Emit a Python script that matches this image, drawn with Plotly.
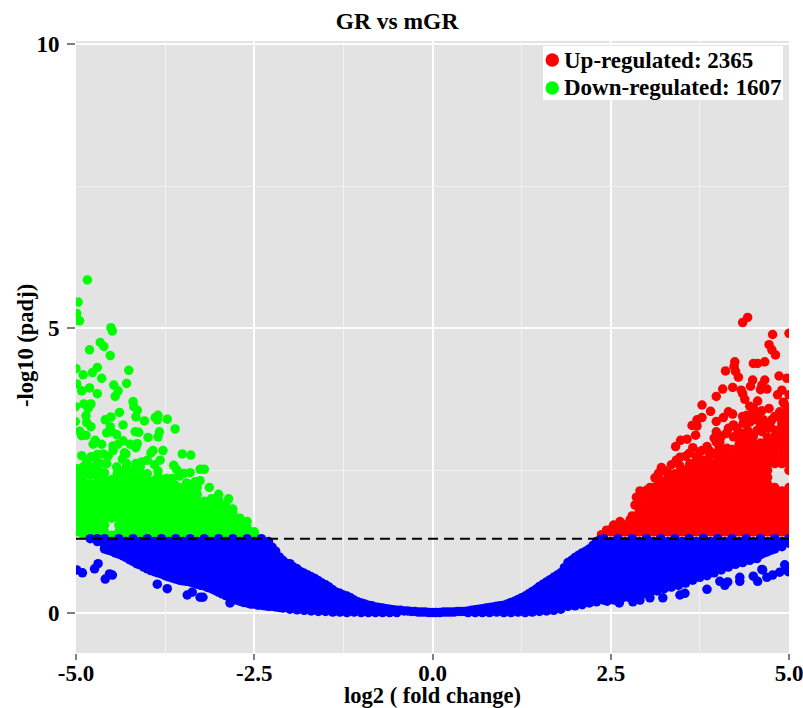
import plotly.graph_objects as go

# Separate points on the outskirts of each cloud
down_x = [-4.84,-4.97,-4.99,-4.95,-4.51,-4.49,-4.66,-4.61,-4.81,-4.52,-4.70,-4.77,-4.26,-5.0,-4.90,-4.64,-4.99,-4.29,-4.47,-4.81,
          -4.92,-4.41,-4.70,-4.45,-4.20,-4.89,-4.79,-4.19,-4.83,-4.14,-5.01,-4.39,-4.16,-3.85,-3.89,-3.72,-3.86,-4.86,-4.51,-4.59,
          -4.04,-4.85,-5.01,-4.34,-4.79,-4.52,-3.61,-4.95,-4.57,-4.17,-4.12,-3.83,-4.50,-4.43,-4.92,-4.86,-3.99,-3.85,-4.73,-4.34,
          -4.76,-4.64,-4.14,-4.24,-4.48,-4.41,-4.16,-4.48,-3.78,-3.92,-3.95,-4.32,-4.30,-3.51,-3.39,-4.62,-4.92,-4.79,-3.82,-4.0,
          -4.08,-4.16,-3.63,-3.26,-3.20,-3.59,-3.40,-3.49,-3.55,-3.85,-4.29,-4.57,-4.66,-4.76,-4.99,-4.83,-4.43,-4.31,-4.42,-4.62,
          -4.73,-4.94,-4.12,-3.73,-3.85,-3.26,-3.33,-3.35,-3.61,-3.55,-3.13,-4.42,-3.96,-2.86,
          -3.65,-3.3,-3.45,-4.55,-4.7,-4.35,-4.85,-4.97,-4.98,-3.0]
down_y = [5.85,5.46,5.26,5.13,5.01,4.95,4.75,4.68,4.62,4.52,4.31,4.22,4.26,4.29,4.18,4.12,4.02,4.03,4.0,3.95,
          3.90,3.90,3.85,3.80,3.71,3.67,3.67,3.62,3.59,3.56,3.62,3.52,3.44,3.47,3.43,3.40,3.39,3.46,3.44,3.39,
          3.37,3.34,3.36,3.30,3.27,3.27,3.23,3.19,3.16,3.18,3.17,3.18,3.18,3.13,3.11,3.12,3.08,3.09,3.03,3.02,
          2.96,2.96,2.97,2.96,2.93,2.96,2.90,2.85,2.85,2.85,2.81,2.81,2.79,2.79,2.77,2.79,2.76,2.74,2.68,2.68,
          2.65,2.62,2.59,2.52,2.52,2.52,2.46,2.45,2.40,2.49,2.62,2.62,2.62,2.56,2.53,2.53,2.56,2.48,2.45,2.45,
          2.45,2.33,2.48,2.36,2.39,2.32,2.30,2.21,2.24,2.20,2.20,2.30,2.24,2.0,
          2.36,2.2,2.28,2.75,2.78,2.7,2.65,2.35,2.5,2.08]

up_x = [4.42,4.35,4.77,5.0,4.72,4.76,4.81,4.24,4.50,4.56,4.66,4.23,4.11,4.25,4.29,4.86,4.97,4.49,4.66,4.46,
        4.62,4.07,4.21,4.33,4.69,4.90,4.60,4.35,4.84,5.0,3.98,4.38,4.56,3.78,4.93,4.45,4.72,3.90,4.50,4.15,
        4.21,4.41,4.87,3.78,3.71,4.08,3.98,4.50,4.64,4.76,4.97,3.64,3.71,4.15,4.22,4.27,4.36,4.90,4.71,3.98,
        4.36,4.48,4.62,3.69,4.22,3.95,3.57,3.48,4.71,4.92,4.03,4.64,3.41,3.65,3.85,4.13,4.06,4.36,4.78,4.97,
        3.75,3.96,4.55,3.47,3.71,3.89,3.47,3.21,3.61,4.10,4.31,4.45,4.73,4.97,3.31,3.17,3.12,3.17,3.0,2.91,
        2.86,2.84,2.77,2.63,2.54,2.44,2.37,
        3.98,4.05,4.12,4.02,4.3,4.42,4.55,4.6,4.68,4.75,4.82,4.88,4.95,4.8,4.56,4.45,4.35,4.5,4.62,4.4,4.85,3.88,3.78,3.6,3.55,3.35,3.42,3.25,3.05,2.95,4.92,4.98]
up_y = [5.19,5.10,4.89,4.91,4.71,4.62,4.53,4.41,4.38,4.38,4.41,4.33,4.25,4.24,4.14,4.16,4.12,4.09,4.09,3.98,
        4.0,3.93,3.96,3.91,3.93,3.91,3.92,3.85,3.83,3.83,3.80,3.75,3.72,3.65,3.68,3.63,3.59,3.54,3.53,3.53,
        3.49,3.47,3.53,3.43,3.39,3.43,3.36,3.39,3.39,3.39,3.41,3.29,3.28,3.24,3.30,3.24,3.33,3.28,3.24,3.18,
        3.15,3.12,3.18,3.12,3.09,3.07,3.05,3.03,3.05,3.09,3.0,2.97,2.92,2.90,2.92,2.89,2.87,2.97,2.92,2.97,
        2.83,2.80,2.83,2.73,2.68,2.77,2.58,2.55,2.62,2.64,2.71,2.77,2.74,2.74,2.45,2.45,2.37,2.27,2.15,2.14,
        2.03,1.89,1.63,1.60,1.54,1.45,1.37,
        3.0,3.1,3.15,2.92,3.17,3.2,3.2,3.3,3.3,3.25,3.2,3.42,3.5,3.45,3.45,3.35,3.45,3.6,3.55,3.0,3.0,2.85,2.85,2.8,2.75,2.6,2.68,2.5,2.2,2.05,3.7,3.6]

ns_out_x = [-4.99,-4.91,-4.74,-4.69,-4.59,-4.53,-4.49,-3.86,-3.72,-3.44,-3.37,-3.26,-3.22,-2.84,
            2.62,2.81,2.91,3.05,3.23,3.47,3.54,3.85,4.03,4.10,4.14,4.31,4.31,4.50,4.56,4.62,4.63,4.69,4.77,4.87,4.97,4.94,4.99]
ns_out_y = [0.75,0.70,0.77,0.86,0.59,0.68,0.66,0.50,0.42,0.31,0.36,0.27,0.27,0.17,
            0.17,0.19,0.22,0.26,0.26,0.31,0.34,0.41,0.55,0.48,0.54,0.55,0.62,0.64,0.55,0.76,0.75,0.62,0.66,0.71,0.78,0.84,0.72]

# Read along the edges of the blue cloud
ns_edge_x = [-2.25,-2.15,-2.05,-1.95,-1.85,-1.75,-1.65,-1.55,-1.45,-1.35,-1.25,-1.15,-1.05,-0.95,-0.85,-0.75,-0.65,-0.55,-0.45,-0.35,-0.25,-0.15,-0.05,
             0.05,0.15,0.25,0.35,0.45,0.55,0.65,0.75,0.85,0.95,1.05,1.15,1.25,1.35,1.45,1.55,1.65,1.75,1.85,1.95,2.05,2.15,2.25,2.35,
             2.45,2.55,2.65,2.75,2.85,2.95,3.05,3.15,3.25,3.35,3.45,3.55,3.65,3.75,3.85,3.95,4.05,4.15,4.25,4.35,4.45,4.55,4.65,4.75,4.85,4.95,
             -4.55,-4.45,-4.35,-4.25,-4.15,-4.05,-3.95,-3.85,-3.75,-3.65,-3.55,-3.45,-3.35,-3.25,-3.15,-3.05,-2.95,-2.85,-2.75,-2.65,-2.55,-2.45,-2.35,-2.25,-2.15]
ns_edge_y = [1.15,0.98,0.87,0.8,0.72,0.66,0.6,0.52,0.45,0.36,0.31,0.26,0.19,0.15,0.12,0.09,0.07,0.05,0.04,0.03,0.02,0.01,0.0,
             0.0,0.01,0.01,0.02,0.02,0.04,0.06,0.08,0.1,0.12,0.15,0.2,0.26,0.33,0.41,0.5,0.58,0.66,0.79,0.92,1.01,1.08,1.18,1.28,
             0.2,0.22,0.25,0.27,0.29,0.33,0.36,0.38,0.42,0.45,0.48,0.52,0.57,0.62,0.65,0.7,0.75,0.8,0.85,0.88,0.92,0.95,1.05,1.1,1.18,1.25,
             1.1,1.05,1.0,0.93,0.86,0.8,0.74,0.7,0.65,0.61,0.57,0.55,0.52,0.48,0.44,0.39,0.33,0.27,0.22,0.18,0.15,0.13,0.12,0.11,0.09]

# Estimated where the clouds merge into solid colour: one x per column, with its y values
down_fill_x = [-5.0,-4.9,-4.8,-4.7,-4.6,-4.5,-4.4,-4.3,-4.2,-4.1,-4.0,-3.9,-3.8,-3.7,-3.6,-3.5,-3.4,-3.3,-3.2,-3.1,-3.0,-2.9,-2.8,-2.7,-2.6,-2.5]
down_fill_y = [
 [1.42,1.54,1.66,1.78,1.9,2.02,2.14,2.22],
 [1.37,1.48,1.6,1.72,1.84,1.96,2.08,2.2,2.32,2.44,2.56],
 [1.42,1.54,1.66,1.78,1.9,2.02,2.14,2.26,2.42,2.54],
 [1.36,1.48,1.6,1.72,1.84,1.96,2.08,2.2,2.3,2.42,2.52,2.64],
 [1.42,1.54,1.66,1.78,1.9,2.02,2.14,2.22,2.34,2.46],
 [1.36,1.66,1.72,1.84,1.96,2.08,2.22,2.34],
 [1.42,1.54,1.66,1.78,1.9,2.02,2.14,2.2,2.32,2.44],
 [1.36,1.48,1.6,1.72,1.84,1.96,2.08,2.2,2.3,2.42,2.54],
 [1.42,1.54,1.66,1.78,1.9,2.02,2.14,2.26,2.38,2.5],
 [1.36,1.48,1.6,1.72,1.84,1.96,2.08,2.2,2.32,2.44,2.56],
 [1.42,1.54,1.66,1.78,1.9,2.02,2.14,2.2,2.32,2.44],
 [1.36,1.48,1.6,1.72,1.84,1.96,2.08,2.2,2.32,2.6],
 [1.42,1.54,1.66,1.78,1.9,2.0,2.1,2.22,2.34],
 [1.36,1.48,1.6,1.72,1.84,1.96,2.02,2.14,2.26],
 [1.42,1.54,1.66,1.78,1.9,2.0,2.1,2.22],
 [1.36,1.48,1.6,1.72,1.84,1.92,2.02,2.14],
 [1.42,1.54,1.66,1.78,1.9,1.96,2.06,2.18],
 [1.36,1.48,1.6,1.72,1.84,1.96,2.08],
 [1.42,1.54,1.66,1.78,1.85,1.96],
 [1.36,1.48,1.6,1.72,1.8,1.9,2.0],
 [1.42,1.54,1.66,1.75,1.86,1.98],
 [1.36,1.48,1.6,1.7,1.8,1.9],
 [1.42,1.54,1.65,1.75,1.82],
 [1.36,1.48,1.56,1.66],
 [1.42,1.5,1.6],
 [1.38,1.42]]

up_fill_x = [2.4,2.5,2.6,2.7,2.8,2.9,3.0,3.1,3.2,3.3,3.4,3.5,3.6,3.7,3.8,3.9,4.0,4.1,4.2,4.3,4.4,4.5,4.6,4.7,4.8,4.9,5.0]
up_fill_y = [
 [1.36],
 [1.42,1.46],
 [1.36,1.48],
 [1.42,1.54],
 [1.36,1.48,1.6,1.7],
 [1.42,1.54,1.66,1.78,1.9],
 [1.36,1.48,1.6,1.72,1.84,1.96,2.05],
 [1.42,1.54,1.66,1.78,1.9,2.02,2.14,2.2],
 [1.36,1.48,1.6,1.72,1.84,1.96,2.08,2.2,2.32],
 [1.42,1.54,1.66,1.78,1.9,2.02,2.14,2.26,2.38],
 [1.36,1.48,1.6,1.72,1.84,1.96,2.08,2.2,2.32,2.44],
 [1.42,1.54,1.66,1.78,1.9,2.02,2.14,2.26,2.38,2.5],
 [1.36,1.48,1.6,1.72,1.84,1.96,2.08,2.2,2.32,2.44,2.56],
 [1.42,1.54,1.66,1.78,1.9,2.02,2.14,2.26,2.38,2.5,2.62,2.74],
 [1.36,1.48,1.6,1.72,1.84,1.96,2.08,2.2,2.32,2.44,2.56,2.68],
 [1.42,1.54,1.66,1.78,1.9,2.02,2.14,2.26,2.38,2.5,2.62],
 [1.36,1.48,1.6,1.72,1.84,1.96,2.08,2.2,2.32,2.44,2.56,2.68,2.8],
 [1.42,1.54,1.66,1.78,1.9,2.02,2.14,2.26,2.38,2.5,2.6,2.72,2.84],
 [1.36,1.48,1.6,1.72,1.84,1.96,2.08,2.2,2.32,2.44,2.56,2.68,2.75,2.87],
 [1.42,1.54,1.66,1.78,1.9,2.02,2.14,2.26,2.38,2.5,2.62,2.74,2.85,2.95,3.05],
 [1.36,1.48,1.6,1.72,1.84,1.96,2.08,2.2,2.32,2.44,2.56,2.68,2.8,2.92,3.04],
 [1.42,1.54,1.66,1.78,1.9,2.02,2.14,2.26,2.38,2.5,2.62,2.74,2.86,2.98,3.1],
 [1.36,1.48,1.6,1.72,1.84,1.96,2.08,2.2,2.32,2.44,2.56,2.68,2.75,2.86,2.98],
 [1.42,1.54,1.66,1.78,1.9,2.02,2.14,2.26,2.38,2.5,2.62,2.74,2.85,2.96,3.08],
 [1.36,1.48,1.6,1.72,1.84,1.96,2.08,2.2,2.62,2.74,2.86,2.98,3.1],
 [1.42,1.54,1.66,1.78,1.9,2.02,2.14,2.62,2.74,2.86,2.98,3.1,3.22,3.34],
 [1.36,1.48,1.6,1.72,1.84,1.96,2.08,2.2,2.5,2.62,2.74,2.86,3.0,3.15,3.3]]

ns_fill_x = [-4.8,-4.7,-4.6,-4.5,-4.4,-4.3,-4.2,-4.1,-4.0,-3.9,-3.8,-3.7,-3.6,-3.5,-3.4,-3.3,-3.2,-3.1,-3.0,-2.9,-2.8,-2.7,-2.6,-2.5,-2.4,-2.3,
             -2.2,-2.1,-2.0,-1.9,-1.8,-1.7,-1.6,-1.5,-1.4,-1.3,-1.2,-1.1,-1.0,-0.9,-0.8,-0.7,-0.6,-0.5,-0.4,-0.3,-0.2,-0.1,0.0,
             0.1,0.2,0.3,0.4,0.5,0.6,0.7,0.8,0.9,1.0,1.1,1.2,1.3,1.4,1.5,1.6,1.7,1.8,1.9,2.0,2.1,2.2,2.3,
             2.4,2.5,2.6,2.7,2.8,2.9,3.0,3.1,3.2,3.3,3.4,3.5,3.6,3.7,3.8,3.9,4.0,4.1,4.2,4.3,4.4,4.5,4.6,4.7,4.8,4.9,5.0]
ns_fill_y = [
 [1.3],[1.3,1.25],[1.3,1.19,1.12],[1.25,1.14,1.08],[1.3,1.19,1.08,1.03],[1.25,1.14,1.03,0.97],
 [1.3,1.19,1.08,0.97,0.9],[1.25,1.14,1.03,0.92,0.84],[1.3,1.19,1.08,0.97,0.86,0.77],[1.25,1.14,1.03,0.92,0.81,0.72],
 [1.3,1.19,1.08,0.97,0.86,0.75,0.68],[1.25,1.14,1.03,0.92,0.81,0.7,0.63],[1.3,1.19,1.08,0.97,0.86,0.75,0.64,0.59],
 [1.25,1.14,1.03,0.92,0.81,0.7,0.59,0.56],[1.3,1.19,1.08,0.97,0.86,0.75,0.64,0.54],[1.25,1.14,1.03,0.92,0.81,0.7,0.59,0.5],
 [1.3,1.19,1.08,0.97,0.86,0.75,0.64,0.53,0.47],[1.25,1.14,1.03,0.92,0.81,0.7,0.59,0.48,0.42],
 [1.3,1.19,1.08,0.97,0.86,0.75,0.64,0.53,0.42,0.36],[1.25,1.14,1.03,0.92,0.81,0.7,0.59,0.48,0.37,0.3],
 [1.3,1.19,1.08,0.97,0.86,0.75,0.64,0.53,0.42,0.31,0.25],[1.25,1.14,1.03,0.92,0.81,0.7,0.59,0.48,0.37,0.26,0.2],
 [1.3,1.19,1.08,0.97,0.86,0.75,0.64,0.53,0.42,0.31,0.2,0.17],[1.25,1.14,1.03,0.92,0.81,0.7,0.59,0.48,0.37,0.26,0.15],
 [1.3,1.19,1.08,0.97,0.86,0.75,0.64,0.53,0.42,0.31,0.2,0.13],[1.25,1.14,1.03,0.92,0.81,0.7,0.59,0.48,0.37,0.26,0.15,0.11],
 [1.08,0.97,0.86,0.75,0.64,0.53,0.42,0.31,0.2,0.1],[0.92,0.81,0.7,0.59,0.48,0.37,0.26,0.15,0.08],
 [0.86,0.75,0.64,0.53,0.42,0.31,0.2,0.09,0.06],[0.77,0.66,0.55,0.44,0.33,0.22,0.11,0.05],
 [0.69,0.58,0.47,0.36,0.25,0.14,0.04],[0.63,0.52,0.41,0.3,0.19,0.08,0.03],[0.56,0.45,0.34,0.23,0.12,0.02],
 [0.49,0.38,0.27,0.16,0.05,0.02],[0.4,0.29,0.18,0.07,0.01],[0.34,0.23,0.12,0.01],[0.29,0.18,0.07,0.0],
 [0.22,0.11,0.01],[0.17,0.06,0.0],[0.13,0.03,0.0],[0.1,0.0],[0.08,0.0],[0.06,0.0],[0.04,0.0],[0.03],[0.02],[0.01],[0.01],[0.0],
 [0.0],[0.01],[0.01],[0.02],[0.03,0.0],[0.05,0.0],[0.07,0.0],[0.09,0.0],[0.11,0.01],[0.13,0.03,0.0],
 [0.18,0.07,0.0],[0.23,0.12,0.01],[0.29,0.18,0.07,0.0],[0.37,0.26,0.15,0.04,0.01],[0.46,0.35,0.24,0.13,0.02],
 [0.54,0.43,0.32,0.21,0.1,0.03],[0.62,0.51,0.4,0.29,0.18,0.07,0.04],[0.7,0.59,0.48,0.37,0.26,0.15,0.06],
 [0.88,0.77,0.66,0.55,0.44,0.33,0.22,0.11],[0.97,0.86,0.75,0.64,0.53,0.42,0.31,0.2,0.12],
 [1.05,0.94,0.83,0.72,0.61,0.5,0.39,0.28,0.17,0.14],[1.12,1.01,0.9,0.79,0.68,0.57,0.46,0.35,0.24,0.17],
 [1.25,1.14,1.03,0.92,0.81,0.7,0.59,0.48,0.37,0.26,0.19],
 [1.3,1.19,1.08,0.97,0.86,0.75,0.64,0.53,0.42,0.31,0.22],[1.25,1.14,1.03,0.92,0.81,0.7,0.59,0.48,0.37,0.26,0.24],
 [1.3,1.19,1.08,0.97,0.86,0.75,0.64,0.53,0.42,0.31,0.26],[1.25,1.14,1.03,0.92,0.81,0.7,0.59,0.48,0.37,0.28],
 [1.3,1.19,1.08,0.97,0.86,0.75,0.64,0.53,0.42,0.3],[1.25,1.14,1.03,0.92,0.81,0.7,0.59,0.48,0.37,0.33],
 [1.3,1.19,1.08,0.97,0.86,0.75,0.64,0.53,0.42,0.38],[1.25,1.14,1.03,0.92,0.81,0.7,0.59,0.48,0.41],
 [1.3,1.19,1.08,0.97,0.86,0.75,0.64,0.53,0.44],[1.25,1.14,1.03,0.92,0.81,0.7,0.59,0.46],
 [1.3,1.19,1.08,0.97,0.86,0.75,0.64,0.53,0.5],[1.25,1.14,1.03,0.92,0.81,0.7,0.59,0.54],
 [1.3,1.19,1.08,0.97,0.86,0.75,0.64,0.6],[1.25,1.14,1.03,0.92,0.81,0.7,0.63],
 [1.3,1.19,1.08,0.97,0.86,0.75,0.68],[1.25,1.14,1.03,0.92,0.81,0.72],[1.3,1.19,1.08,0.97,0.86,0.77],
 [1.25,1.14,1.03,0.92,0.82],[1.3,1.19,1.08,0.97,0.86],[1.25,1.14,1.03,0.9],[1.3,1.19,1.08,0.97,0.93],
 [1.25,1.14,1.03,0.96],[1.3,1.19,1.08,1.02],[1.25,1.14,1.07],[1.3,1.19,1.12],[1.25,1.16],[1.3,1.22],[1.28]]

legend_labels = ["Up-regulated: 2365", "Down-regulated: 1607"]
legend_colors = ["#ff0000", "#00ff00"]

def flat(xs, ys):
    out_x, out_y = [], []
    for x, col in zip(xs, ys):
        out_x += [x] * len(col)
        out_y += col
    return out_x, out_y

dfx, dfy = flat(down_fill_x, down_fill_y)
ufx, ufy = flat(up_fill_x, up_fill_y)
nfx, nfy = flat(ns_fill_x, ns_fill_y)

SERIF = "Liberation Serif"
DOT = 9.5
L, R, T, B = 76, 789, 41, 653
def px(v): return (v - L) / (R - L)
def py(v): return (B - v) / (B - T)

fig = go.Figure()
fig.add_trace(go.Scatter(x=down_x + dfx, y=down_y + dfy, mode="markers", marker=dict(color="#00ff00", size=DOT), showlegend=False, name="Down"))
fig.add_trace(go.Scatter(x=up_x + ufx, y=up_y + ufy, mode="markers", marker=dict(color="#ff0000", size=DOT), showlegend=False, name="Up"))
fig.add_trace(go.Scatter(x=nfx + ns_edge_x + ns_out_x, y=nfy + ns_edge_y + ns_out_y, mode="markers", marker=dict(color="#0000ff", size=DOT), showlegend=False, name="NS"))

fig.add_hline(y=1.3, line=dict(color="black", width=2, dash="10px,6px"))

# legend panel
fig.add_shape(type="rect", xref="paper", yref="paper", x0=px(543), x1=px(783), y0=py(46), y1=py(100),
              fillcolor="white", line=dict(width=0), layer="above")
for label, color, yc in zip(legend_labels, legend_colors, [60, 88]):
    fig.add_shape(type="circle", xref="paper", yref="paper", x0=px(545.5), x1=px(559), y0=py(yc - 6.75), y1=py(yc + 6.75),
                  fillcolor=color, line=dict(width=0), layer="above")
    fig.add_annotation(xref="paper", yref="paper", x=px(562), y=py(yc), xanchor="left", yanchor="middle", showarrow=False,
                       text=f"<b>{label}</b>", font=dict(family=SERIF, size=23, color="black"))

# y axis title, placed by hand because Plotly's own sits too far left here
fig.add_annotation(xref="paper", yref="paper", x=px(25), y=py(346), xanchor="center", yanchor="middle", showarrow=False,
                   textangle=-90, text="<b>-log10 (padj)</b>", font=dict(family=SERIF, size=22.5, color="black"))

axis_font = dict(family=SERIF, size=23, color="black", weight="bold")
fig.update_layout(
    width=803, height=708, autosize=False,
    margin=dict(l=L, r=803 - R, t=T, b=708 - B, autoexpand=False),
    paper_bgcolor="white", plot_bgcolor="#e3e3e3",
    font=dict(family=SERIF, color="black"),
    showlegend=False,
    title=dict(text="<b>GR vs mGR</b>", x=397/803, xanchor="center", xref="container",
               y=1-21/708, yanchor="middle", font=dict(family=SERIF, size=23.5, color="black")),
    xaxis=dict(range=[-5, 5], tickvals=[-5, -2.5, 0, 2.5, 5], ticktext=["-5.0", "-2.5", "0.0", "2.5", "5.0"],
               showgrid=True, gridcolor="white", gridwidth=2, zeroline=False, showline=False, automargin=False,
               minor=dict(tickvals=[-3.75, -1.25, 1.25, 3.75], showgrid=True, gridcolor="#f2f2f2", gridwidth=1, ticks=""),
               ticks="outside", ticklen=6, tickwidth=2, tickcolor="#7f7f7f", tickfont=axis_font, ticklabelstandoff=-7,
               ticklabeloverflow="allow",
               title=dict(text="<b>log2 ( fold change)</b>", standoff=0, font=dict(family=SERIF, size=22.5, color="black"))),
    yaxis=dict(range=[-0.71, 10.05], tickvals=[0, 5, 10], ticktext=["0", "5", "10"],
               showgrid=True, gridcolor="white", gridwidth=2, zeroline=False, showline=False, automargin=False,
               minor=dict(tickvals=[2.5, 7.5], showgrid=True, gridcolor="#f2f2f2", gridwidth=1, ticks=""),
               ticks="outside", ticklen=8, tickwidth=2, tickcolor="#7f7f7f", tickfont=axis_font, ticklabelstandoff=3,
               ticklabeloverflow="allow"),
)
fig.write_html("out.html", post_script="document.body.style.margin='0';", config=dict(displayModeBar=False))
